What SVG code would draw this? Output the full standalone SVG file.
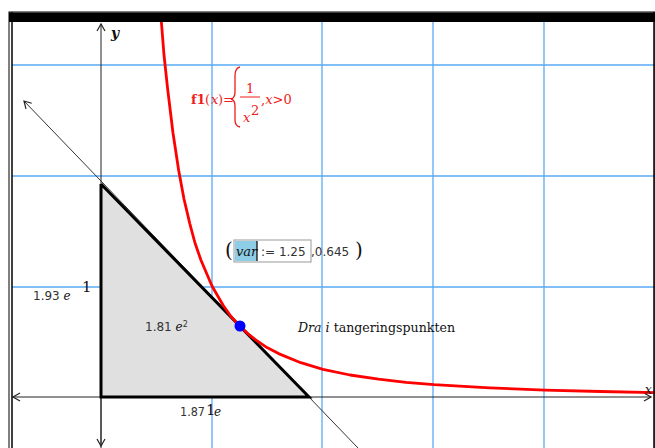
<svg xmlns="http://www.w3.org/2000/svg" width="655" height="448" viewBox="0 0 655 448">
<defs>
<style>
.grid{stroke:#5aaaf5;stroke-width:1.3;fill:none}
.axis{stroke:#222;stroke-width:1;fill:none}
.num{font-family:"DejaVu Sans",sans-serif;font-size:12px;fill:#333}
.ser{font-family:"DejaVu Serif",serif;fill:#111}
.red{font-family:"DejaVu Serif",serif;fill:#ee1c1c;font-size:13px}
</style>
<marker id="ah" markerWidth="10" markerHeight="10" refX="8" refY="5" orient="auto" markerUnits="userSpaceOnUse">
<path d="M1,1 L8,5 L1,9" fill="none" stroke="#222" stroke-width="1.2"/>
</marker>
</defs>
<rect width="655" height="448" fill="#fff"/>
<g id="grid">
<line class="grid" x1="212" y1="22" x2="212" y2="448"/>
<line class="grid" x1="322" y1="22" x2="322" y2="448"/>
<line class="grid" x1="433" y1="22" x2="433" y2="448"/>
<line class="grid" x1="544" y1="22" x2="544" y2="448"/>
<line class="grid" x1="12" y1="65" x2="655" y2="65"/>
<line class="grid" x1="12" y1="176" x2="655" y2="176"/>
<line class="grid" x1="12" y1="287" x2="655" y2="287"/>
</g>
<g id="triangle">
<polygon points="101,184 101,397 309,397" fill="#e0e0e0" stroke="none"/>
</g>
<g id="connectors">
<line class="axis" x1="101" y1="448" x2="101" y2="24" marker-end="url(#ah)"/>
<line class="axis" x1="101" y1="397" x2="101" y2="446" marker-end="url(#ah)"/>
<line class="axis" x1="101" y1="397" x2="13" y2="397" marker-end="url(#ah)"/>
<line class="axis" x1="101" y1="397" x2="651" y2="397" marker-end="url(#ah)"/>
<line x1="358" y1="448" x2="24" y2="101" stroke="#333" stroke-width="1" marker-end="url(#ah)"/>
<polyline points="101,184 101,397 309,397 101,184" fill="none" stroke="#000" stroke-width="3" stroke-linejoin="miter"/>
</g>
<g id="curve">
<polyline fill="none" stroke="#ff0000" stroke-width="2.8" stroke-linejoin="round" points="161.3,21 164,55 167.6,88.7 173,133 178.7,170.5 184,199 189.8,223.6 195,243 200.9,260 212,286 223.1,305.3 231,316.5 239.75,326 248,333.8 256.4,340.4 267,347.6 278.6,353.6 300.8,362.7 323,369.3 350,375 378.5,379.2 406,382.3 434,384.7 489.5,387.9 545,390.1 600.5,391.5 656,392.6"/>
</g>
<g id="point">
<circle cx="240" cy="326" r="5.5" fill="#0000ff"/>
</g>
<g id="frame">
<rect x="9" y="12" width="646" height="440" fill="none" stroke="#000" stroke-width="1"/>
<line x1="12" y1="12" x2="12" y2="448" stroke="#000" stroke-width="1.5"/>
<rect x="9" y="12.5" width="646" height="9.5" fill="#000"/>
<line x1="654" y1="12" x2="654" y2="448" stroke="#000" stroke-width="1.5"/>
</g>
<g id="labels">
<text x="111" y="38" class="ser" font-size="14" font-style="italic" font-weight="bold">y</text>
<text x="645" y="394" class="ser" font-size="12" font-style="italic">x</text>
<text x="33" y="300" class="num">1.93 <tspan class="ser" font-style="italic">e</tspan></text>
<text x="82" y="292" class="ser" font-size="15">1</text>
<text x="145" y="331" class="num">1.81 <tspan class="ser" font-style="italic">e</tspan><tspan font-size="8" dy="-4">2</tspan></text>
<text x="180" y="416" class="num" textLength="25" lengthAdjust="spacingAndGlyphs">1.87</text>
<text x="206" y="415" class="ser" font-size="15">1</text>
<text x="214" y="416" class="ser" font-size="12" font-style="italic">e</text>
<text x="298" y="332" class="ser" font-size="13" textLength="157" lengthAdjust="spacingAndGlyphs"><tspan font-style="italic">Dra i</tspan> tangeringspunkten</text>
</g>
<g id="f1label">
<text x="191" y="104" class="red" font-weight="bold">f1</text>
<text x="205" y="104" class="red" font-size="15">(</text>
<text x="211" y="104" class="red" font-style="italic">x</text>
<text x="218" y="104" class="red" font-size="15">)</text>
<text x="223" y="104" class="red" font-size="12">=</text>
<path d="M240,67 Q235,68 235,76 L235,92 Q235,98 231,99 Q235,100 235,106 L235,120 Q235,126 240,127" fill="none" stroke="#ee1c1c" stroke-width="1.3"/>
<text x="246" y="93" class="red">1</text>
<line x1="240" y1="97" x2="260" y2="97" stroke="#ee1c1c" stroke-width="1"/>
<text x="243" y="122" class="red" font-style="italic">x</text>
<text x="251" y="115" class="red" font-size="11">2</text>
<text x="261" y="104" class="red"><tspan>,</tspan><tspan font-style="italic">x</tspan>&gt;0</text>
</g>
<g id="pointlabel">
<text x="225" y="257" class="ser" font-size="20" fill="#444">(</text>
<rect x="234" y="240" width="77" height="22" fill="#fff" stroke="#999" stroke-width="1"/>
<rect x="235" y="241" width="22" height="20" fill="#8ecde6"/>
<line x1="257" y1="241" x2="257" y2="261" stroke="#000" stroke-width="1.2"/>
<text x="236" y="256" class="ser" font-size="13" font-style="italic" fill="#333">var</text>
<text x="261" y="256" class="num" font-size="13">:= 1.25</text>
<text x="311" y="256" class="num" font-size="13">,0.645</text>
<text x="355" y="257" class="ser" font-size="20" fill="#444">)</text>
</g>
</svg>
